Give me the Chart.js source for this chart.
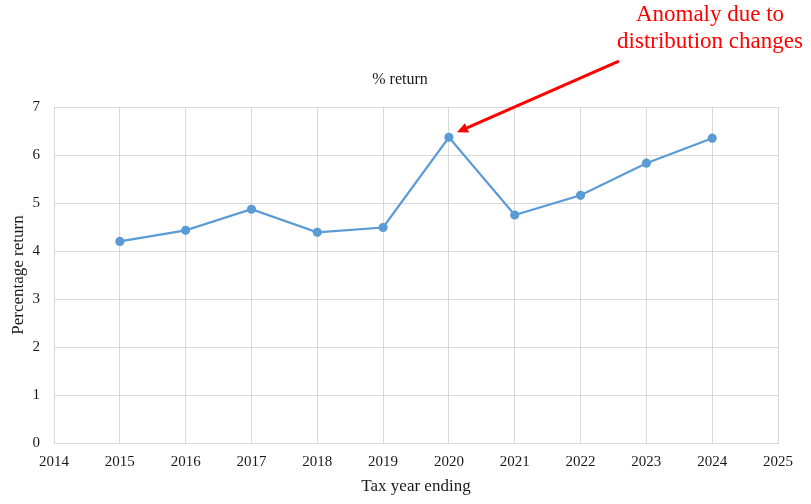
<!DOCTYPE html>
<html>
<head>
<meta charset="utf-8">
<script src="https://cdn.jsdelivr.net/npm/chart.js@4.4.1/dist/chart.umd.min.js"></script>
<style>
  html, body { margin: 0; padding: 0; background: #fff; }
  #wrap { width: 811px; height: 504px; position: relative; }
</style>
</head>
<body>
<div id="wrap"><canvas id="chart"></canvas></div>
<script>
// ===== data =====
const YEARS = [2015, 2016, 2017, 2018, 2019, 2020, 2021, 2022, 2023, 2024];
const RETURNS = [4.2, 4.43, 4.87, 4.39, 4.49, 6.37, 4.75, 5.16, 5.83, 6.35];
const X_MIN = 2014, X_MAX = 2025;
const Y_MIN = 0, Y_MAX = 7;
const ANOMALY_YEAR = 2020;
const TITLE = '% return';
const NOTE_LINES = ['Anomaly due to', 'distribution changes'];

const FONT = '"Liberation Serif", "Times New Roman", serif';
const TEXT = '#1a1a1a';
const GRID = '#d9d9d9';
const LINE = '#5b9bd5';
const RED = '#ff0000';

// title, arrow + note drawn after the chart
const notePlugin = {
  id: 'note',
  afterDraw(chart) {
    const { ctx, scales } = chart;
    const i = YEARS.indexOf(ANOMALY_YEAR);
    const px = scales.x.getPixelForValue(ANOMALY_YEAR);
    const py = scales.y.getPixelForValue(RETURNS[i]);
    const hx = px + 8, hy = py - 5;       // arrow tip, just off the point
    const tx = px + 170, ty = py - 76;    // arrow tail
    ctx.save();
    ctx.fillStyle = TEXT;
    ctx.font = '16px ' + FONT;
    ctx.textAlign = 'center';
    ctx.textBaseline = 'middle';
    ctx.fillText(TITLE, 400, 80);

    ctx.strokeStyle = RED;
    ctx.fillStyle = RED;
    ctx.lineWidth = 3;
    const ang = Math.atan2(hy - ty, hx - tx);
    const hl = 11, hw = 5;
    const bx = hx - hl * Math.cos(ang), by = hy - hl * Math.sin(ang);
    ctx.beginPath();
    ctx.moveTo(tx, ty);
    ctx.lineTo(bx, by);
    ctx.stroke();
    ctx.beginPath();
    ctx.moveTo(hx, hy);
    ctx.lineTo(bx + hw * Math.sin(ang), by - hw * Math.cos(ang));
    ctx.lineTo(bx - hw * Math.sin(ang), by + hw * Math.cos(ang));
    ctx.closePath();
    ctx.fill();

    ctx.font = '23px ' + FONT;
    ctx.fillText(NOTE_LINES[0], 710, 15);
    ctx.fillText(NOTE_LINES[1], 710, 42);
    ctx.restore();
  }
};

const ctx = document.getElementById('chart').getContext('2d');
new Chart(ctx, {
  type: 'line',
  data: {
    datasets: [{
      label: TITLE,
      data: YEARS.map((y, i) => ({ x: y, y: RETURNS[i] })),
      borderColor: LINE,
      backgroundColor: LINE,
      borderWidth: 2.2,
      pointRadius: 3.5,
      pointBackgroundColor: LINE,
      pointBorderColor: LINE,
      tension: 0,
      fill: false
    }]
  },
  options: {
    responsive: true,
    maintainAspectRatio: false,
    animation: false,
    layout: { padding: { left: 0, right: 33, top: 107, bottom: 0 } },
    plugins: {
      legend: { display: false },
      tooltip: { enabled: false },
      title: { display: false }
    },
    scales: {
      x: {
        type: 'linear',
        min: X_MIN,
        max: X_MAX,
        grid: { color: GRID, drawTicks: false },
        border: { color: GRID },
        ticks: {
          stepSize: 1,
          padding: 10,
          color: TEXT,
          font: { family: FONT, size: 15 },
          callback: (v) => String(v)
        },
        title: {
          display: true,
          text: 'Tax year ending',
          color: TEXT,
          font: { family: FONT, size: 17 },
          padding: { top: 4, bottom: 7 }
        },
        afterFit: (s) => { s.height = 61; }
      },
      y: {
        min: Y_MIN,
        max: Y_MAX,
        grid: { color: GRID, drawTicks: false },
        border: { color: GRID },
        ticks: {
          stepSize: 1,
          padding: 14,
          color: TEXT,
          font: { family: FONT, size: 15 }
        },
        title: {
          display: true,
          text: 'Percentage return',
          color: TEXT,
          font: { family: FONT, size: 17 },
          padding: { top: 8, bottom: 0 }
        },
        afterFit: (s) => { s.width = 54; }
      }
    }
  },
  plugins: [notePlugin]
});
</script>
</body>
</html>
